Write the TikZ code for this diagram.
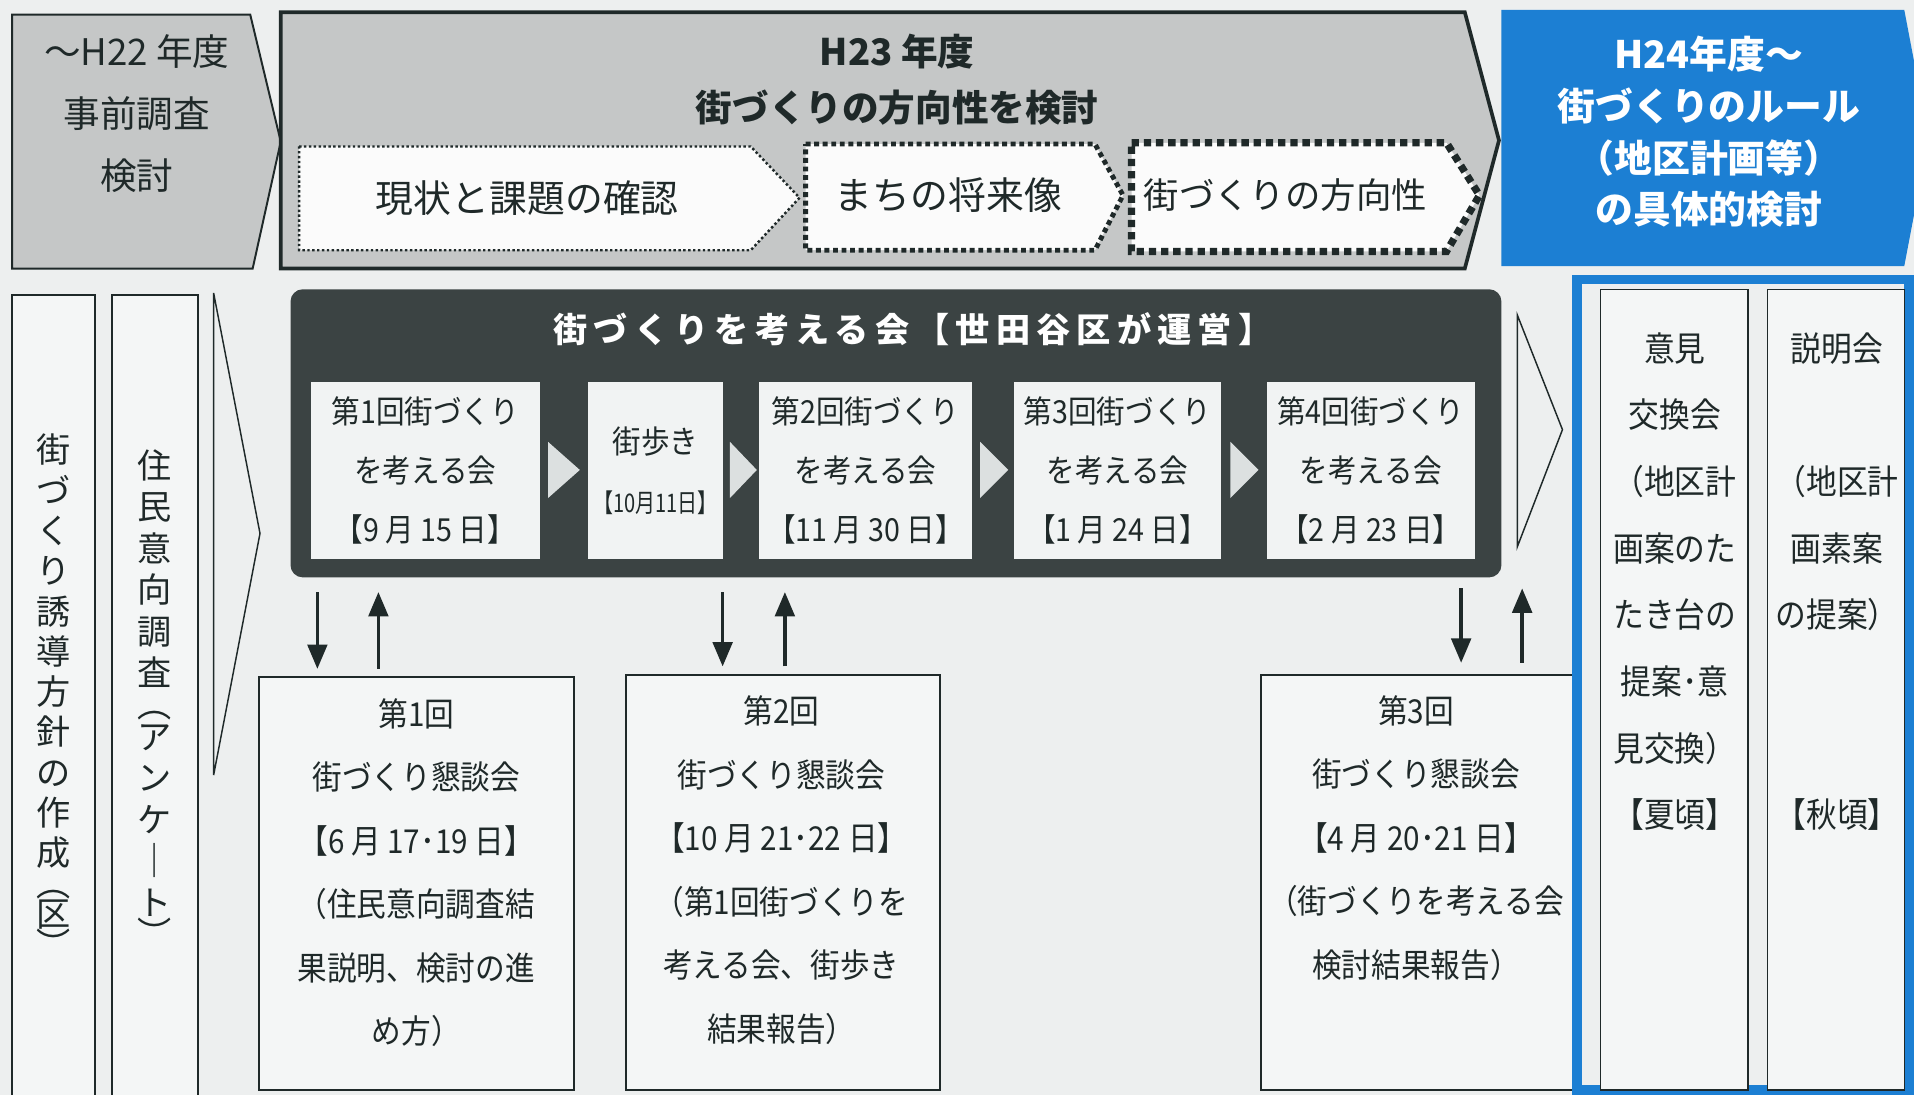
\documentclass[tikz,border=0pt]{standalone}
\usepackage{fontspec}
\newfontfamily\jp{Noto Sans CJK JP}
\newfontfamily\jpc[FakeStretch=0.9]{Noto Sans CJK JP}
\newfontfamily\jpn[FakeStretch=0.78]{Noto Sans CJK JP}
\usetikzlibrary{arrows.meta}
\definecolor{bg}{HTML}{EDEFEF}
\definecolor{gfill}{HTML}{C5C7C7}
\definecolor{ink}{HTML}{1F2929}
\definecolor{darkbox}{HTML}{3B4343}
\definecolor{blu}{HTML}{1C7FD3}
\definecolor{kfill}{HTML}{F1F3F3}
\definecolor{wfill}{HTML}{F4F6F6}
\definecolor{trif}{HTML}{DCE0E0}
\definecolor{cfill}{HTML}{FBFBFB}
\tikzset{
  lbl/.style={inner sep=0pt, outer sep=0pt, text=ink, align=center},
  bigtxt/.style={lbl, font={\jp\fontsize{15}{25.25}\selectfont}},
  ctxt/.style={lbl, font={\jp\fontsize{15.5}{18}\selectfont}},
  ttl/.style={lbl, font={\jp\bfseries\fontsize{15}{23}\selectfont}},
  bluetxt/.style={lbl, text=white, font={\jp\bfseries\fontsize{15.5}{21.25}\selectfont}},
  meettitle/.style={lbl, text=white, font={\jp\bfseries\fontsize{14}{16}\selectfont\addfontfeature{LetterSpace=18}}},
  kbox/.style={lbl, fill=kfill, minimum height=72.5pt, font={\jpc\fontsize{13}{24.25}\selectfont}},
  lbox/.style={lbl, draw=ink, line width=0.8pt, fill=wfill},
  ltxt/.style={lbl, font={\jpc\fontsize{13.5}{26}\selectfont}},
  vbox/.style={lbl, draw=ink, line width=0.8pt, fill=wfill},
  vtxt/.style={lbl, font={\jp\fontsize{14}{16.5}\selectfont}},
  rtxt/.style={lbl, font={\jpc\fontsize{14}{27.3}\selectfont}},
  arr/.style={draw=ink, line width=1.5pt, -{Triangle[width=8pt,length=10pt]}},
  chev/.style={fill=trif},
  outl/.style={draw=ink, line width=0.6pt},
}
\begin{document}
\begin{tikzpicture}[x=0.5pt,y=-0.5pt]
\useasboundingbox (0,0) rectangle (1568,897);
\clip (0,0) rectangle (1568,897);
\fill[bg] (0,0) rectangle (1568,897);

% left vertical boxes
\node[vbox, minimum width=34pt, minimum height=339pt] (V1) at (44,581) {};
\node[vtxt] (V1t) at (44,570) {街\\づ\\く\\り\\誘\\導\\方\\針\\の\\作\\成\\[-4pt]︵\\[-4pt]区\\[-4pt]︶};
\node[vbox, minimum width=35pt, minimum height=339pt] (V2) at (127,581) {};
\node[vtxt, font={\jp\fontsize{14}{17}\selectfont}] (V2t) at (127,572) {住\\民\\意\\向\\調\\査\\[-4pt]︵\\[-4pt]ア\\ン\\ケ\\｜\\ト\\[-4pt]︶};
\draw[outl] (175,240) -- (213,437) -- (175,635) -- cycle;

% top row
\draw[draw=ink, line width=0.8pt, fill=gfill] (10,12) -- (205,12) -- (230,116) -- (207,220) -- (10,220) -- cycle;
\node[bigtxt] (A) at (112,93) {～H22 年度\\事前調査\\検討};

\draw[draw=ink, line width=1.5pt, fill=gfill] (230,10) -- (1200,10) -- (1228,115) -- (1200,220) -- (230,220) -- cycle;
\node[ttl] (B) at (735,65) {H23 年度\\街づくりの方向性を検討};

\draw[draw=ink, line width=1pt, dash pattern=on 1pt off 1pt, fill=cfill] (245,120) -- (615,120) -- (655,162) -- (615,205) -- (245,205) -- cycle;
\node[ctxt] (C1) at (432,162) {現状と課題の確認};
\draw[draw=ink, line width=2pt, dash pattern=on 2pt off 1.5pt, fill=cfill] (660,118) -- (897,118) -- (920,160) -- (897,205) -- (660,205) -- cycle;
\node[ctxt] (C2) at (777,160) {まちの将来像};
\draw[draw=ink, line width=3pt, dash pattern=on 3pt off 2pt, fill=cfill] (927,117) -- (1185,117) -- (1212,160) -- (1185,206) -- (927,206) -- cycle;
\node[ctxt, font={\jp\fontsize{14.5}{18}\selectfont}] (C3) at (1053,160) {街づくりの方向性};

\fill[blu] (1230,8) -- (1560,8) -- (1580,113) -- (1560,218) -- (1230,218) -- cycle;
\node[bluetxt] (H24) at (1400,108) {H24年度～\\街づくりのルール\\（地区計画等）\\の具体的検討};

% dark box
\node[lbl, fill=darkbox, rounded corners=5pt, minimum width=496pt, minimum height=118pt] (meet) at (734,355) {};
\node[meettitle] (meetT) at (748,270) {街づくりを考える会【世田谷区が運営】};
\node[kbox, minimum width=93.5pt] (K1) at (348.5,385.5) {第1回街づくり\\を考える会\\【9 月 15 日】};
\node[kbox, minimum width=55pt] (K2) at (537,385.5) {街歩き\\{\jpn\fontsize{10.5}{12}\selectfont【10月11日】}};
\node[kbox, minimum width=87pt] (K3) at (709,385.5) {第2回街づくり\\を考える会\\【11 月 30 日】};
\node[kbox, minimum width=84.5pt] (K4) at (915.5,385.5) {第3回街づくり\\を考える会\\【1 月 24 日】};
\node[kbox, minimum width=85pt] (K5) at (1123,385.5) {第4回街づくり\\を考える会\\【2 月 23 日】};
\fill[chev] (449,362) -- (475,385) -- (449,408) -- cycle;
\fill[chev] (598,362) -- (620,385) -- (598,408) -- cycle;
\fill[chev] (803,362) -- (826,385) -- (803,408) -- cycle;
\fill[chev] (1008,362) -- (1031,385) -- (1008,408) -- cycle;

% bottom boxes
\node[lbox, minimum width=129pt, minimum height=169pt] (L1) at (341,724) {};
\node[ltxt] (L1t) at (341,715) {第1回\\街づくり懇談会\\【6 月 17･19 日】\\（住民意向調査結\\果説明、検討の進\\め方）};
\node[lbox, minimum width=128.5pt, minimum height=170pt] (L2) at (641.5,723) {};
\node[ltxt] (L2t) at (640,713) {第2回\\街づくり懇談会\\【10 月 21･22 日】\\（第1回街づくりを\\考える会、街歩き\\結果報告）};
\node[lbox, minimum width=133.5pt, minimum height=170pt] (L3) at (1166.5,723) {};
\node[ltxt] (L3t) at (1160,686.5) {第3回\\街づくり懇談会\\【4 月 20･21 日】\\（街づくりを考える会\\検討結果報告）};

% arrows
\coordinate (d1) at (260,0); \coordinate (u1) at (310,0);
\coordinate (d2) at (592,0); \coordinate (u2) at (643,0);
\coordinate (d3) at (1197,0); \coordinate (u3) at (1247,0);
\draw[arr, shorten <=6pt, shorten >=3.5pt] (meet.south -| d1) -- (L1.north -| d1);
\draw[arr, shorten <=3.5pt, shorten >=6pt] (L1.north -| u1) -- (meet.south -| u1);
\draw[arr, shorten <=6pt, shorten >=3.5pt] (meet.south -| d2) -- (L2.north -| d2);
\draw[arr, shorten <=3.5pt, shorten >=6pt] (L2.north -| u2) -- (meet.south -| u2);
\draw[arr, shorten <=4.5pt, shorten >=5pt] (meet.south -| d3) -- (L3.north -| d3);
\draw[arr, shorten <=5pt, shorten >=4.5pt] (L3.north -| u3) -- (meet.south -| u3);

\draw[outl] (1243,258) -- (1280,352) -- (1243,448) -- cycle;

% right blue frame
\node[lbl, draw=blu, line width=4pt, fill=bg, minimum width=136pt, minimum height=332pt] (frame) at (1428,561) {};
\node[vbox, line width=0.6pt, minimum width=60.5pt, minimum height=328pt] (R1) at (1371.5,565) {};
\node[rtxt] (R1t) at (1372,476.5) {意見\\交換会\\（地区計\\画案のた\\たき台の\\提案･意\\見交換）\\【夏頃】};
\node[vbox, line width=0.6pt, minimum width=56pt, minimum height=328pt] (R2) at (1504,565) {};
\node[rtxt] (R2t) at (1505,476.5) {説明会\\~\\（地区計\\画素案\\の提案）\\~\\~\\【秋頃】};
\end{tikzpicture}
\end{document}
